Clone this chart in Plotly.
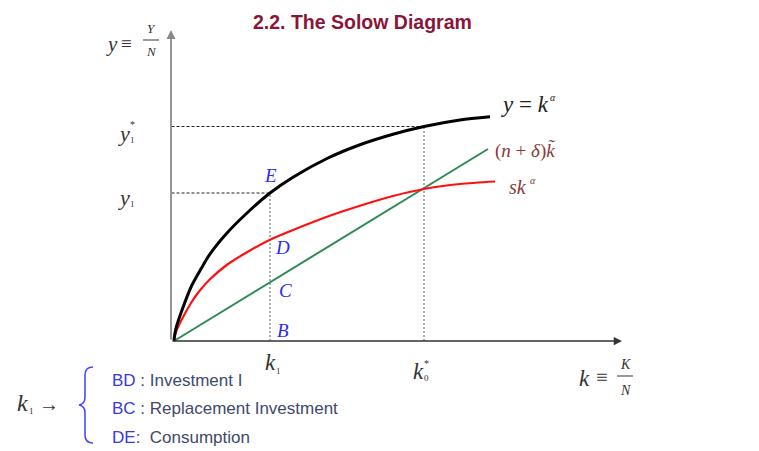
import plotly.graph_objects as go

# ---------------- data (k and y in diagram units) ----------------
black_k = [0, 0.03, 0.1, 0.3, 0.7, 1.1, 1.44, 2.12, 2.92, 3.84, 4.76, 6.12, 7.44, 8.76, 10.0, 11.44, 12.64]
black_y = [0, 0.26, 0.58, 1.18, 2.2, 2.92, 3.48, 4.32, 5.12, 5.92, 6.55, 7.30, 7.85, 8.27, 8.58, 8.84, 8.97]

red_k = [0, 0.03, 0.1, 0.3, 0.7, 1.0, 1.44, 2.12, 2.92, 3.84, 4.76, 6.12, 7.44, 8.76, 10.0, 11.44, 12.84]
red_y = [0, 0.2, 0.42, 0.84, 1.55, 1.98, 2.47, 3.05, 3.55, 4.05, 4.44, 4.97, 5.41, 5.80, 6.08, 6.28, 6.38]

green_k = [0, 12.56]
green_y = [0, 7.68]

k1 = 3.84
k0_star = 10.0
y1 = 5.92
y1_star = 8.58

x_max = 17.92
y_max = 12.44

# The page body has an 8px margin; the figure is sized so it fills the window exactly.
OFF = 8
W, H = 759 - OFF, 451 - OFF
SCALE = 25.0          # pixels per diagram unit
ORIGIN_X, ORIGIN_Y = 174, 341   # window pixels of the diagram origin


def pxx(p):
    return (p - OFF) / W


def pyy(p):
    return 1 - (p - OFF) / H


fig = go.Figure()

# dashed / dotted guides
fig.add_trace(go.Scatter(x=[-0.1, k0_star], y=[y1_star, y1_star], mode="lines",
                         line=dict(color="#222", width=1, dash="3px,2px"), hoverinfo="skip"))
fig.add_trace(go.Scatter(x=[-0.1, k1], y=[y1, y1], mode="lines",
                         line=dict(color="#222", width=1, dash="3px,2px"), hoverinfo="skip"))
fig.add_trace(go.Scatter(x=[k1, k1], y=[0, y1], mode="lines",
                         line=dict(color="#999", width=1.6, dash="2px,2px"), hoverinfo="skip"))
fig.add_trace(go.Scatter(x=[k0_star, k0_star], y=[0, y1_star], mode="lines",
                         line=dict(color="#999", width=1.6, dash="2px,2px"), hoverinfo="skip"))

# curves
fig.add_trace(go.Scatter(x=green_k, y=green_y, mode="lines",
                         line=dict(color="#2e8b57", width=2), hoverinfo="skip"))
fig.add_trace(go.Scatter(x=red_k, y=red_y, mode="lines",
                         line=dict(color="#ff1010", width=2.2, shape="spline", smoothing=0.8),
                         hoverinfo="skip"))
fig.add_trace(go.Scatter(x=black_k, y=black_y, mode="lines",
                         line=dict(color="#000000", width=3, shape="spline", smoothing=0.8),
                         hoverinfo="skip"))

ann = []
serif = "Liberation Serif, Times New Roman, serif"
sans = "Liberation Sans, Arial, sans-serif"


def txt(x, y, text, size, color, family=serif, xref="paper", yref="paper", xanchor="center", yanchor="middle"):
    ann.append(dict(x=x, y=y, xref=xref, yref=yref, text=text, showarrow=False,
                    font=dict(size=size, color=color, family=family),
                    xanchor=xanchor, yanchor=yanchor))


# axes arrows
ann.append(dict(x=x_max, y=0, ax=-0.12, ay=0, xref="x", yref="y", axref="x", ayref="y",
                showarrow=True, arrowhead=2, arrowsize=1.1, arrowwidth=1.5, arrowcolor="#333", text=""))
ann.append(dict(x=-0.12, y=y_max, ax=-0.12, ay=0, xref="x", yref="y", axref="x", ayref="y",
                showarrow=True, arrowhead=2, arrowsize=1.0, arrowwidth=1.8, arrowcolor="#8a8a8a", text=""))

# title
txt(pxx(362), pyy(8.5), "<b>2.2. The Solow Diagram</b>", 19.5, "#8b1538", family=sans, yanchor="top")

# point labels
blue = "#2a2aff"
txt(k1, y1 + 0.72, "<i>E</i>", 19, blue, xref="x", yref="y")
txt(k1 + 0.48, 3.76, "<i>D</i>", 19, blue, xref="x", yref="y")
txt(k1 + 0.6, 2.04, "<i>C</i>", 19, blue, xref="x", yref="y")
txt(k1 + 0.52, 0.44, "<i>B</i>", 19, blue, xref="x", yref="y")

dark = "#333333"
# y axis label y ≡ Y/N
txt(pxx(112), pyy(44), "<i>y</i>", 21, dark)
txt(pxx(126), pyy(43), "≡", 19, dark)
txt(pxx(151), pyy(29), "<i>Y</i>", 13, dark)
txt(pxx(151), pyy(52), "<i>N</i>", 13, dark)
# x axis label k ≡ K/N
txt(pxx(584), pyy(378), "<i>k</i>", 23, dark)
txt(pxx(602), pyy(377), "≡", 21, dark)
txt(pxx(625), pyy(364), "<i>K</i>", 14, dark)
txt(pxx(625), pyy(390), "<i>N</i>", 14, dark)

# y1*, y1
txt(pxx(124), pyy(133), "<i>y</i>", 22, dark)
txt(pxx(132), pyy(140), "1", 9, dark)
txt(pxx(132), pyy(124), "*", 10, dark)
txt(pxx(124), pyy(197), "<i>y</i>", 22, dark)
txt(pxx(132), pyy(204), "1", 9, dark)

# k1, k0*
txt(pxx(270), pyy(362), "<i>k</i>", 23, dark)
txt(pxx(278), pyy(371), "1", 9, dark)
txt(pxx(418), pyy(371), "<i>k</i>", 23, dark)
txt(pxx(426), pyy(378), "0", 9, dark)
txt(pxx(426), pyy(363), "*", 10, dark)

# curve labels
txt(pxx(499), pyy(104), "<i>y</i> = <i>k</i>", 23, "#222", xanchor="left")
txt(pxx(548), pyy(97), "<i>α</i>", 10, "#222", xanchor="left")
brown = "#8a3a3a"
txt(pxx(493), pyy(151), "(<i>n</i> + <i>δ</i>)<i>k̃</i>", 19, brown, xanchor="left")
txt(pxx(507), pyy(187), "<i>sk</i>", 20, brown, xanchor="left")
txt(pxx(528), pyy(181), "<i>α</i>", 10, brown, xanchor="left")

# bottom explanation
txt(pxx(22), pyy(403), "<i>k</i>", 24, dark)
txt(pxx(31), pyy(411), "1", 9, dark)
txt(pxx(49), pyy(404), "→", 20, dark)
slate = "#3d4a6b"
bl2 = "#3a3ae0"
txt(pxx(110), pyy(380), "<span style='color:%s'>BD</span> : Investment I" % bl2, 17, slate, family=sans, xanchor="left")
txt(pxx(110), pyy(408), "<span style='color:%s'>BC</span> : Replacement Investment" % bl2, 17, slate, family=sans, xanchor="left")
txt(pxx(110), pyy(437), "<span style='color:%s'>DE</span>:  Consumption" % bl2, 17, slate, family=sans, xanchor="left")

shapes = []
# fraction bars
shapes.append(dict(type="line", xref="paper", yref="paper", x0=pxx(143), x1=pxx(159), y0=pyy(40), y1=pyy(40),
                   line=dict(color=dark, width=1)))
shapes.append(dict(type="line", xref="paper", yref="paper", x0=pxx(617), x1=pxx(633), y0=pyy(376), y1=pyy(376),
                   line=dict(color=dark, width=1)))


# brace
def P(x, y):
    return "%.5f,%.5f" % (pxx(x), pyy(y))


brace = ("M " + P(93, 367) + " Q " + P(85, 367) + " " + P(85, 375) +
         " L " + P(85, 397) + " Q " + P(85, 404) + " " + P(79, 405) +
         " Q " + P(85, 406) + " " + P(85, 413) +
         " L " + P(85, 435) + " Q " + P(85, 443) + " " + P(93, 443))
shapes.append(dict(type="path", xref="paper", yref="paper", path=brace,
                   line=dict(color="#4a4aff", width=1.6)))

ox, oy = ORIGIN_X - OFF, ORIGIN_Y - OFF
fig.update_layout(
    width=W, height=H,
    margin=dict(l=0, r=0, t=0, b=0),
    paper_bgcolor="white", plot_bgcolor="white",
    showlegend=False,
    xaxis=dict(range=[-ox / SCALE, (W - ox) / SCALE], visible=False, fixedrange=True),
    yaxis=dict(range=[-(H - oy) / SCALE, oy / SCALE], visible=False, fixedrange=True),
    annotations=ann, shapes=shapes,
)

fig.write_html("out.html")
